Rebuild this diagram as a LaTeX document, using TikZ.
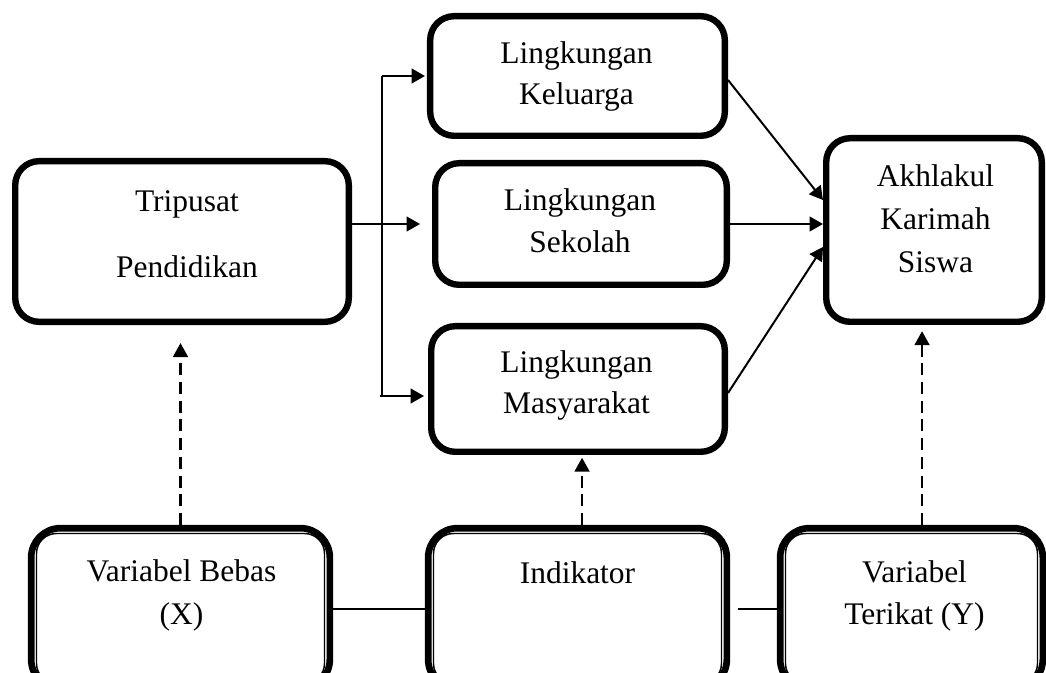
\documentclass[tikz,border=0pt]{standalone}
\usepackage{fontspec}
\setmainfont{Liberation Serif}
\usetikzlibrary{arrows.meta,calc}
\begin{document}
\begin{tikzpicture}[x=0.75pt,y=-0.75pt,
  box/.style={draw, line width=4.8pt, rounded corners=18pt, inner sep=0pt},
  dbox/.style={draw, line width=5pt, rounded corners=22pt, inner sep=0pt},
  innerline/.style={draw, line width=1.1pt, rounded corners=15pt},
  txt/.style={align=center, inner sep=0pt},
  conn/.style={line width=1.5pt, -{Triangle[length=10pt,width=11pt]}},
  plain/.style={line width=1.5pt},
  dconn/.style={line width=2.1pt, dash pattern=on 9pt off 5pt, -{Triangle[length=10.5pt,width=11pt]}}
]
\useasboundingbox (0,0) rectangle (1046,673);
\clip (0,0) rectangle (1046,673);

% boxes
\node[box, minimum width=250.2pt, minimum height=120.5pt] (trip) at (182,241.5) {};
\node[box, minimum width=221pt, minimum height=89.7pt] (kel) at (577.5,76) {};
\node[box, minimum width=218.7pt, minimum height=91.2pt] (sek) at (581,224) {};
\node[box, minimum width=220.2pt, minimum height=94.2pt] (mas) at (578,389) {};
\node[box, minimum width=161.7pt, minimum height=137.7pt] (akh) at (934,230) {};

\node[dbox, minimum width=224pt, minimum height=120.5pt] (bebas) at (180.5,608.5) {};
\node[dbox, minimum width=224pt, minimum height=120.5pt] (ind) at (577.5,608.5) {};
\node[dbox, minimum width=197pt, minimum height=120.5pt] (ter) at (911.5,608.5) {};

\draw[innerline] ([xshift=6.5pt,yshift=6.5pt]bebas.south west) rectangle ([xshift=-6.5pt,yshift=-6.5pt]bebas.north east);
\draw[innerline] ([xshift=6.5pt,yshift=6.5pt]ind.south west) rectangle ([xshift=-6.5pt,yshift=-6.5pt]ind.north east);
\draw[innerline] ([xshift=6.5pt,yshift=6.5pt]ter.south west) rectangle ([xshift=-6.5pt,yshift=-6.5pt]ter.north east);

% texts
\node[txt, font=\fontsize{23.6}{49.5}\selectfont] (trip-t) at (187,234.3) {Tripusat\\Pendidikan};
\node[txt, font=\fontsize{23.6}{30.75}\selectfont] (kel-t) at (576.5,76.2) {Lingkungan\\Keluarga};
\node[txt, font=\fontsize{23.6}{31.5}\selectfont] (sek-t) at (580,220.3) {Lingkungan\\Sekolah};
\node[txt, font=\fontsize{23.6}{30.75}\selectfont] (mas-t) at (576.5,385.2) {Lingkungan\\Masyarakat};
\node[txt, font=\fontsize{23.6}{32.25}\selectfont] (akh-t) at (935.5,218.8) {Akhlakul\\Karimah\\Siswa};
\node[txt, font=\fontsize{23.6}{32.25}\selectfont] (bebas-t) at (181.5,595.6) {Variabel Bebas\\(X)};
\node[txt, font=\fontsize{23.6}{32.25}\selectfont] (ind-t) at (577.5,572.3) {Indikator};
\node[txt, font=\fontsize{23.6}{31.5}\selectfont] (ter-t) at (914.5,596) {Variabel\\Terikat (Y)};

% branch
\coordinate (bt) at (382,76);
\coordinate (bb) at (382,396);
\draw[conn, shorten >=9pt] (trip.east |- sek.west) -- (sek.west);
\draw[plain] (bt) -- (bb);
\draw[conn, shorten >=1.5pt] (bt) -- (kel.west);
\draw[plain] ([xshift=-1.5pt]bb) -- (bb);
\draw[conn, shorten >=3pt] (bb) -- (mas.west |- bb);

% to Akhlakul
\draw[conn] ([yshift=-3pt]kel.east) -- ([yshift=22.5pt]akh.west);
\draw[conn] (sek.east) -- (sek.east -| akh.west);
\draw[conn] ([yshift=-3pt]mas.east) -- ([yshift=-12.75pt]akh.west);

% dashed indicators
\draw[dconn, shorten >=13.5pt] (bebas.north) -- (bebas.north |- trip.south);
\draw[dconn, shorten >=2pt] ([xshift=3.4pt]ind.north) -- ([xshift=3.4pt]ind.north |- mas.south);
\draw[dconn, shorten >=4.6pt] ([xshift=7.9pt]ter.north) -- ([xshift=7.9pt]ter.north |- akh.south);

% bottom links
\draw[plain] (bebas.east) -- (ind.west);
\draw[plain, shorten <=6pt] (ind.east) -- (ter.west);
\end{tikzpicture}
\end{document}
